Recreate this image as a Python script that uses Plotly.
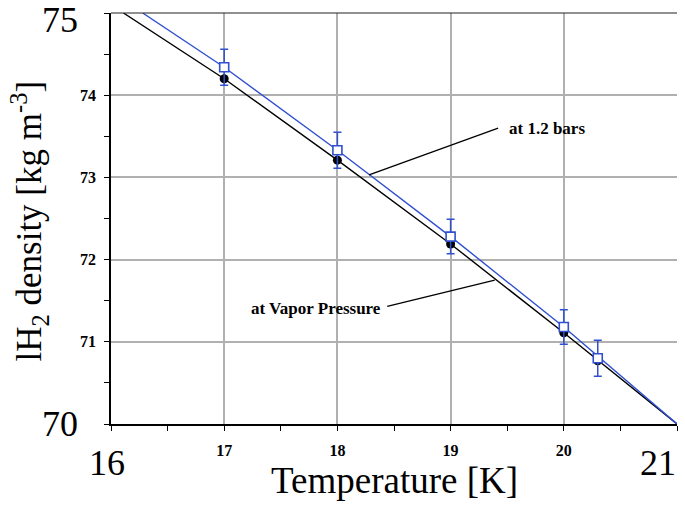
import plotly.graph_objects as go

# ---- data ----
T_meas = [17, 18, 19, 20, 20.3]
rho_vapor = [74.20, 73.21, 72.19, 71.11, 70.77]
rho_bar = [74.34, 73.33, 72.28, 71.18, 70.80]
rho_bar_err = [0.22, 0.22, 0.21, 0.21, 0.22]

T_line_vapor = [16.11, 17, 18, 19, 20, 21]
rho_line_vapor = [75.0, 74.20, 73.21, 72.19, 71.11, 70.0]
T_line_bar = [16.28, 17, 18, 19, 20, 21]
rho_line_bar = [75.0, 74.34, 73.33, 72.28, 71.18, 70.0]

x_tickvals = [16, 17, 18, 19, 20, 21]
x_ticktext = ["", "17", "18", "19", "20", ""]
y_tickvals = [70, 71, 72, 73, 74, 75]
y_ticktext = ["", "71", "72", "73", "74", ""]
x_big_vals = [16, 21]
x_big_text = ["16", "21"]
y_big_vals = [75, 70]
y_big_text = ["75", "70"]

BLUE = "#3050d0"
SERIF = "Liberation Serif"

fig = go.Figure()
fig.add_trace(go.Scatter(x=T_line_vapor, y=rho_line_vapor, mode="lines",
                         line=dict(color="black", width=1.4), showlegend=False))
fig.add_trace(go.Scatter(x=T_meas, y=rho_vapor, mode="markers",
                         marker=dict(color="black", size=9, symbol="circle"), showlegend=False))
fig.add_trace(go.Scatter(x=T_line_bar, y=rho_line_bar, mode="lines",
                         line=dict(color=BLUE, width=1.4), showlegend=False))
fig.add_trace(go.Scatter(x=T_meas, y=rho_bar, mode="markers",
                         marker=dict(color="white", size=9, symbol="square",
                                     line=dict(color=BLUE, width=1.6)),
                         error_y=dict(type="data", array=rho_bar_err, color=BLUE,
                                      thickness=1.5, width=4),
                         showlegend=False))

# leader lines for the labels
fig.add_shape(type="line", xref="x", yref="y", x0=19.42, y0=73.60, x1=18.28, y1=73.03,
              line=dict(color="black", width=1.3))
fig.add_shape(type="line", xref="x", yref="y", x0=18.44, y0=71.43, x1=19.39, y1=71.75,
              line=dict(color="black", width=1.3))

ann = []
ann.append(dict(x=19.50, y=73.59, xref="x", yref="y", text="at 1.2 bars", showarrow=False,
                xanchor="left", yanchor="middle",
                font=dict(family=SERIF, size=17, color="black", weight="bold")))
ann.append(dict(x=18.40, y=71.41, xref="x", yref="y", text="at Vapor Pressure", showarrow=False,
                xanchor="right", yanchor="middle",
                font=dict(family=SERIF, size=17, color="black", weight="bold")))
# big end tick labels
x_shifts = [-4, -19]
for v, t, s in zip(x_big_vals, x_big_text, x_shifts):
    ann.append(dict(x=v, y=0, xref="x", yref="paper", text=t, showarrow=False,
                    xanchor="center", yanchor="middle", xshift=s, yshift=-39,
                    font=dict(family=SERIF, size=36, color="black")))
y_shifts = [-7, 0]
for v, t, s in zip(y_big_vals, y_big_text, y_shifts):
    ann.append(dict(x=0, y=v, xref="paper", yref="y", text=t, showarrow=False,
                    xanchor="right", yanchor="middle", xshift=-31, yshift=s,
                    font=dict(family=SERIF, size=36, color="black")))
# axis titles
ann.append(dict(x=0.5, y=0, xref="paper", yref="paper", text="Temperature [K]", showarrow=False,
                xanchor="center", yanchor="middle", yshift=-56,
                font=dict(family=SERIF, size=37, color="black")))
ann.append(dict(x=0, y=0.5, xref="paper", yref="paper",
                text="lH<sub>2</sub> density [kg m<sup>-3</sup>]", showarrow=False,
                textangle=-90, xanchor="center", yanchor="middle", xshift=-82, yshift=-3,
                font=dict(family=SERIF, size=35, color="black")))

fig.update_layout(
    width=685, height=509,
    margin=dict(l=111, r=8, t=13, b=85),
    paper_bgcolor="white", plot_bgcolor="white",
    annotations=ann,
    xaxis=dict(range=[16, 21], tickvals=x_tickvals, ticktext=x_ticktext,
               tickfont=dict(family=SERIF, size=16, color="black", weight="bold"),
               ticks="outside", ticklen=5, tickcolor="black", tickwidth=1,
               ticklabelstandoff=6,
               showline=True, linecolor="black", linewidth=1.5, mirror=False,
               showgrid=True, gridcolor="#b0b0b0", gridwidth=1.5, zeroline=False,
               minor=dict(dtick=0.5, tick0=16, ticks="outside", ticklen=5,
                          tickcolor="black", showgrid=False)),
    yaxis=dict(range=[70, 75], tickvals=y_tickvals, ticktext=y_ticktext,
               tickfont=dict(family=SERIF, size=16, color="black", weight="bold"),
               ticks="outside", ticklen=5, tickcolor="black", tickwidth=1,
               ticklabelstandoff=5,
               showline=True, linecolor="black", linewidth=1.5, mirror=False,
               showgrid=True, gridcolor="#b0b0b0", gridwidth=1.5, zeroline=False,
               minor=dict(dtick=0.5, tick0=70, ticks="outside", ticklen=5,
                          tickcolor="black", showgrid=False)),
)
# top border
fig.add_shape(type="line", xref="paper", yref="paper", x0=0, x1=1, y0=1, y1=1,
              line=dict(color="#222222", width=1.2))

fig.write_html("out.html")
